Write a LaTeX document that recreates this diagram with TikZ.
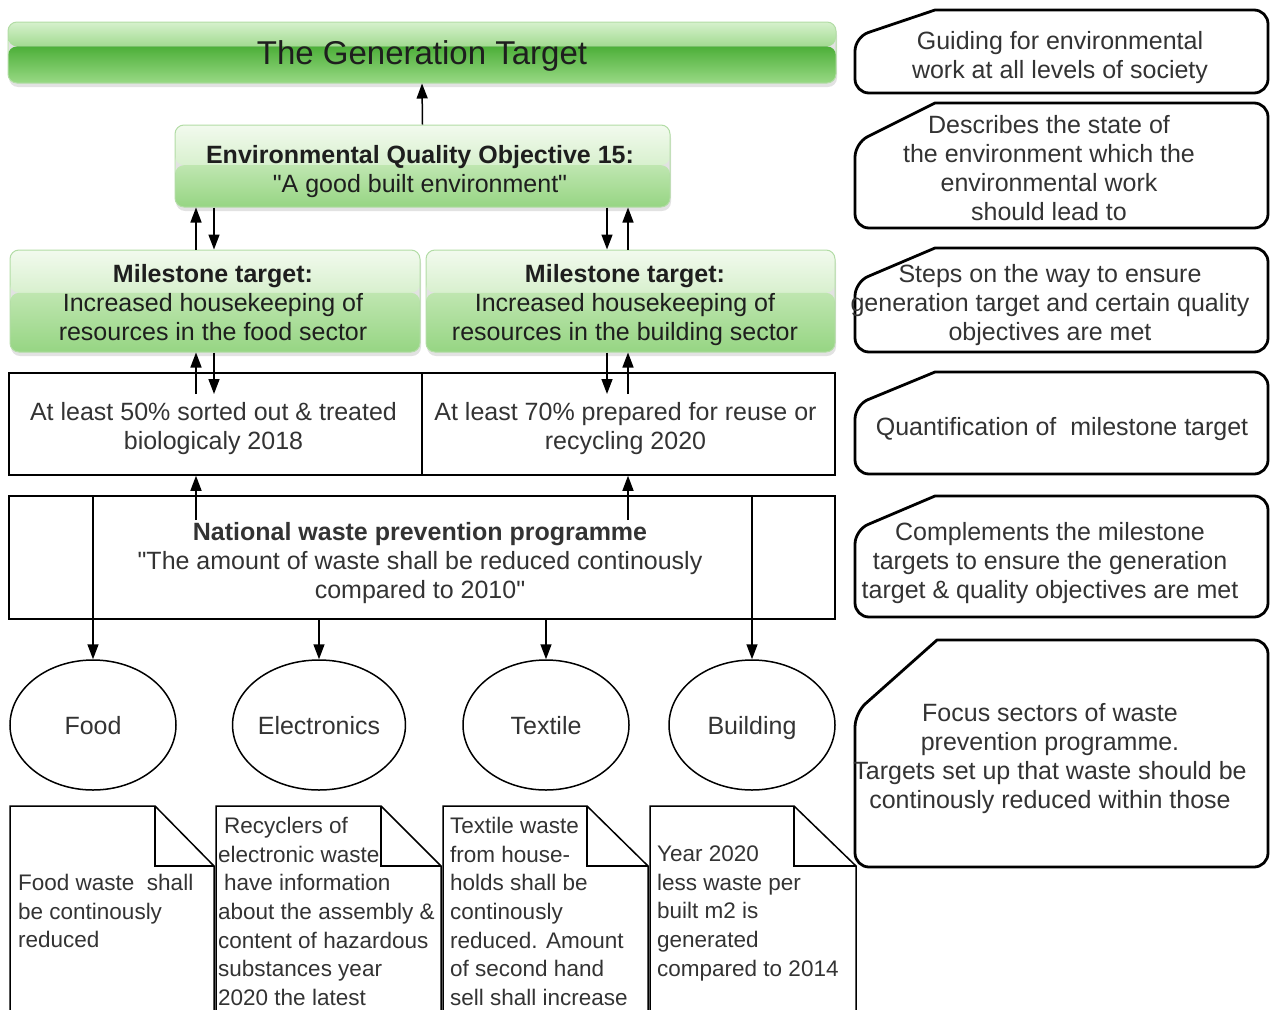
\documentclass[tikz,border=0pt]{standalone}
\usepackage{fontspec}
\setmainfont{Liberation Sans}
\usetikzlibrary{shapes.geometric,arrows.meta,calc,shadows}

\definecolor{txt}{HTML}{333333}
\definecolor{dark}{HTML}{1E1E1E}
\definecolor{genA}{HTML}{D6F1CD}
\definecolor{genB}{HTML}{A2DA90}
\definecolor{genC}{HTML}{4DAF39}
\definecolor{genD}{HTML}{98D984}
\definecolor{boxA}{HTML}{F2FAEE}
\definecolor{boxB}{HTML}{D8F0CE}
\definecolor{boxC}{HTML}{BFE6B0}
\definecolor{boxD}{HTML}{96D583}
\definecolor{edge}{HTML}{B2DCA5}

\begin{document}
\begin{tikzpicture}[x=1pt,y=-1pt,
  every node/.style={text=txt, font=\fontsize{25}{29}\selectfont},
  % two-tone glossy fill: upper and lower shading split at a fraction of the height
  glossy/.style n args={5}{draw=edge, line width=1pt, rounded corners=9pt, inner sep=0pt,
    drop shadow={shadow xshift=1pt, shadow yshift=-4pt, opacity=0.25, fill=black!45},
    path picture={
      \path (path picture bounding box.north west) coordinate (pa)
            (path picture bounding box.south east) coordinate (pb);
      \coordinate (pm) at ($(pa)!#5!(pb)$);
      \shade[top color=#1, bottom color=#2] (pa) rectangle (pm -| pb);
      \shade[top color=#3, bottom color=#4] (pm -| pa) rectangle (pb);
    }},
  label/.style={align=center, inner sep=0pt},
  greenlabel/.style={label, text=dark},
  plainbox/.style={draw=black, line width=1.5pt, rectangle, inner sep=0pt},
  arr/.style={line width=1.5pt, -{Triangle[length=15pt,width=11pt]}},
  sector/.style={ellipse, draw=black, line width=1.5pt, minimum width=166pt,
    minimum height=130pt, inner sep=0pt, text height=18pt, text depth=0pt},
  callout/.style={line width=2.8pt, line join=round},
  notepath/.style={line width=1.5pt, line join=miter},
  notetext/.style={anchor=north west, align=left, inner sep=0pt,
    font=\fontsize{22.5}{28.7}\selectfont}
]
\useasboundingbox (0,0) rectangle (1271,1009);
\clip (0,0) rectangle (1271,1009);

% ---------- green target boxes ----------
\node[glossy={genA}{genB}{genC}{genD}{0.4}, minimum width=828pt, minimum height=61pt]
      (gen) at (422,52.5) {};
\node[greenlabel, font=\fontsize{33}{38}\selectfont] (gent) at (422,55.5) {The Generation Target};

\node[glossy={boxA}{boxB}{boxC}{boxD}{0.49}, minimum width=495pt, minimum height=82pt]
      (eqo) at (422.5,166) {};
\node[greenlabel] (eqot) at (420,171.5)
      {\textbf{Environmental Quality Objective 15:}\\\textquotedbl A good built environment\textquotedbl};

\node[glossy={boxA}{boxB}{boxC}{boxD}{0.42}, minimum width=410pt, minimum height=102pt]
      (ms1) at (215,301) {};
\node[greenlabel] (ms1t) at (213,303)
      {\textbf{Milestone target:}\\Increased housekeeping of\\resources in the food sector};
\node[glossy={boxA}{boxB}{boxC}{boxD}{0.42}, minimum width=409pt, minimum height=102pt]
      (ms2) at (630.5,301) {};
\node[greenlabel] (ms2t) at (625,305)
      {\textbf{Milestone target:}\\Increased housekeeping of\\resources in the building sector};

% ---------- quantification and programme ----------
\node[plainbox, minimum width=413pt, minimum height=102pt] (q1) at (215.5,424) {};
\node[label] (q1t) at (213.5,429) {At least 50\% sorted out \& treated\\biologicaly 2018};
\node[plainbox, minimum width=413pt, minimum height=102pt] (q2) at (628.5,424) {};
\node[label] (q2t) at (625.5,429) {At least 70\% prepared for reuse or\\recycling 2020};
\node[plainbox, minimum width=826pt, minimum height=123pt] (nwpp) at (422,557.5) {};
\node[label] (nwppt) at (420,563.5)
      {\textbf{National waste prevention programme}\\\textquotedbl The amount of waste shall be reduced continously\\compared to 2010\textquotedbl};

% ---------- focus sectors ----------
\node[sector] (food) at (93,725) {Food};
\node[sector] (elec) at (319,725) {Electronics};
\node[sector] (tex)  at (546,725) {Textile};
\node[sector] (bld)  at (752,725) {Building};

% ---------- connectors ----------
\coordinate (cA) at (196,0);
\coordinate (cB) at (214,0);
\coordinate (cC) at (607,0);
\coordinate (cD) at (628,0);
\coordinate (qin) at (0,394);
\coordinate (nin) at (0,520);

\draw[arr] (eqo.north) -- (gen.south);
\draw[arr] (cA |- ms1.north) -- (cA |- eqo.south);
\draw[arr] (cB |- eqo.south) -- (cB |- ms1.north);
\draw[arr] (cC |- eqo.south) -- (cC |- ms2.north);
\draw[arr] (cD |- ms2.north) -- (cD |- eqo.south);

\draw[arr] (cA |- qin) -- (cA |- ms1.south);
\draw[arr] (cB |- ms1.south) -- (cB |- qin);
\draw[arr] (cC |- ms2.south) -- (cC |- qin);
\draw[arr] (cD |- qin) -- (cD |- ms2.south);

\draw[arr] (cA |- nin) -- (cA |- q1.south);
\draw[arr] (cD |- nin) -- (cD |- q2.south);

\draw[arr] (food.north |- nwpp.north) -- (food.north);
\draw[arr] (elec.north |- nwpp.south) -- (elec.north);
\draw[arr] (tex.north |- nwpp.south) -- (tex.north);
\draw[arr] (bld.north |- nwpp.north) -- (bld.north);

% ---------- sector notes with folded corners ----------
\foreach \l/\f/\r in {10/155/214, 216/381/441, 443/587/648, 650/794/856}{
  \draw[notepath] (\l,1015) -- (\l,806) -- (\f,806) -- (\r,866) -- (\r,1015);
  \draw[notepath] (\f,806) -- (\f,866) -- (\r,866);
}
\node[notetext] (nfood) at (18,870) {\strut Food waste~ shall\\be continously\\reduced};
\node[notetext] (nelec) at (218,813) {\strut\hspace*{6pt}Recyclers of\\electronic waste\\\hspace*{6pt}have information\\about the assembly \&\\content of hazardous\\substances year\\2020 the latest};
\node[notetext] (ntex) at (450,813) {\strut Textile waste\\from house-\\holds shall be\\continously\\reduced. Amount\\of second hand\\sell shall increase};
\node[notetext] (nbld) at (657,841) {\strut Year 2020\\less waste per\\built m2 is\\generated\\compared to 2014};

% ---------- explanatory callouts ----------
\foreach \t/\b/\c/\k in {10/93/37/935, 103/228/143/935, 248/352/282/935,
                         372/474/405/935, 496/617/530/935, 640/867/713/937}{
  \draw[callout] (855,\c) -- (\k,\t) [rounded corners=14pt] -- (1268,\t) -- (1268,\b)
    -- (855,\b) -- cycle;
}
\node[label] (k1) at (1060,58) {Guiding for environmental\\work at all levels of society};
\node[label] (k2) at (1049,168.5) {Describes the state of\\the environment which the\\environmental work\\should lead to};
\node[label] (k3) at (1050,305) {Steps on the way to ensure\\generation target and certain quality\\objectives are met};
\node[label] (k4) at (1062,429) {Quantification of~ milestone target};
\node[label] (k5) at (1050,563) {Complements the milestone\\targets to ensure the generation\\target \& quality objectives are met};
\node[label] (k6) at (1050,759) {Focus sectors of waste\\prevention programme.\\Targets set up that waste should be\\continously reduced within those};
\end{tikzpicture}
\end{document}
